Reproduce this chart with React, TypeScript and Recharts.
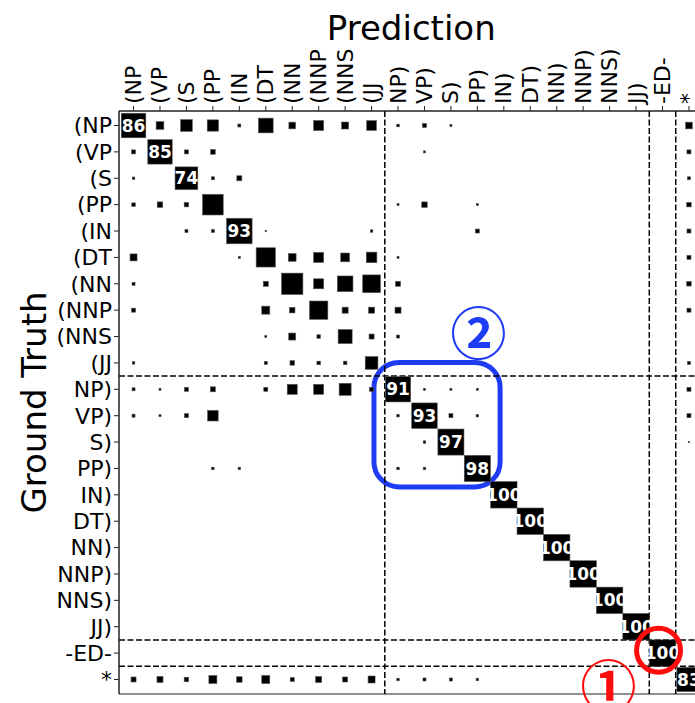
import React from 'react';
import {
  ScatterChart,
  Scatter,
  XAxis,
  YAxis,
  ZAxis,
  ReferenceLine,
  ReferenceArea,
  ReferenceDot,
} from 'recharts';

// tag set used on both axes (ground truth rows, prediction columns)
const tags = [
  '(NP', '(VP', '(S', '(PP', '(IN', '(DT', '(NN', '(NNP', '(NNS', '(JJ',
  'NP)', 'VP)', 'S)', 'PP)', 'IN)', 'DT)', 'NN)', 'NNP)', 'NNS)', 'JJ)',
  '-ED-', '*',
];

// confusion values in %, one array per ground-truth row
const rowOpenNP = [86, 8.5, 19.6, 18.3, 1.3, 31, 6.4, 14.3, 7, 13.5, 1, 2.3, 0.6, 0, 0, 0, 0, 0, 0, 0, 0, 6.4];
const rowOpenVP = [2.3, 85, 2.3, 3.2, 0, 0, 0, 0, 0, 0, 0, 0.6, 0, 0, 0, 0, 0, 0, 0, 0, 0, 2.3];
const rowOpenS = [0.9, 0, 74, 1.3, 3.6, 0, 0, 0, 0, 0, 0, 0, 0, 0, 0, 0, 0, 0, 0, 0, 0, 1.3];
const rowOpenPP = [1.8, 4.3, 2.9, 61, 0, 0, 0, 0, 0, 0, 0.6, 4.3, 0, 0.6, 0, 0, 0, 0, 0, 0, 0, 2.9];
const rowOpenIN = [0, 0, 1.3, 1.3, 93, 0.3, 0, 0, 0, 0.9, 0, 0, 0, 2.3, 0, 0, 0, 0, 0, 0, 0, 2.3];
const rowOpenDT = [7, 0, 0, 0, 0.6, 53, 8.5, 14.3, 11, 16, 0.6, 0, 0, 0, 0, 0, 0, 0, 0, 0, 0, 2.3];
const rowOpenNN = [1.3, 0, 0, 0, 0, 3.6, 65, 14.3, 35, 45, 3.6, 0, 0, 0, 0, 0, 0, 0, 0, 0, 0, 2.9];
const rowOpenNNP = [2.3, 0, 0, 0, 0, 9.2, 4.3, 48, 5.2, 5.2, 5.2, 0, 0, 0, 0, 0, 0, 0, 0, 0, 0, 2.3];
const rowOpenNNS = [0, 0, 0, 0, 0, 0.6, 7, 1.8, 28, 3.6, 1.3, 0, 0, 0, 0, 0, 0, 0, 0, 0, 0, 0];
const rowOpenJJ = [0.9, 0, 0, 0, 0, 1.3, 2.9, 1.8, 1.8, 23, 0, 0, 0, 0, 0, 0, 0, 0, 0, 0, 0, 1.3];
const rowCloseNP = [1.3, 0.6, 2.3, 3.6, 0, 2.3, 14.3, 14.3, 20.6, 2.3, 91, 0.6, 0.6, 0.6, 0, 0, 0, 0, 0, 0, 0, 2.3];
const rowCloseVP = [1.3, 0.6, 2.3, 16, 0, 0, 0, 0, 0, 0, 0.9, 93, 2.3, 0.9, 0, 0, 0, 0, 0, 0, 0, 2.3];
const rowCloseS = [0, 0, 0, 0, 0, 0, 0, 0, 0, 0, 0, 0.9, 97, 0, 0, 0, 0, 0, 0, 0, 0, 0.3];
const rowClosePP = [0, 0, 0, 0.9, 0.9, 0, 0, 0, 0, 0, 0.9, 0.9, 0, 98, 0, 0, 0, 0, 0, 0, 0, 0];
const rowCloseIN = [0, 0, 0, 0, 0, 0, 0, 0, 0, 0, 0, 0, 0, 0, 100, 0, 0, 0, 0, 0, 0, 0];
const rowCloseDT = [0, 0, 0, 0, 0, 0, 0, 0, 0, 0, 0, 0, 0, 0, 0, 100, 0, 0, 0, 0, 0, 0];
const rowCloseNN = [0, 0, 0, 0, 0, 0, 0, 0, 0, 0, 0, 0, 0, 0, 0, 0, 100, 0, 0, 0, 0, 0];
const rowCloseNNP = [0, 0, 0, 0, 0, 0, 0, 0, 0, 0, 0, 0, 0, 0, 0, 0, 0, 100, 0, 0, 0, 0];
const rowCloseNNS = [0, 0, 0, 0, 0, 0, 0, 0, 0, 0, 0, 0, 0, 0, 0, 0, 0, 0, 100, 0, 0, 0];
const rowCloseJJ = [0, 0, 0, 0, 0, 0, 0, 0, 0, 0, 0, 0, 0, 0, 0, 0, 0, 0, 0, 100, 0, 0];
const rowED = [0, 0, 0, 0, 0, 0, 0, 0, 0, 0, 0, 0, 0, 0, 0, 0, 0, 0, 0, 0, 100, 0];
const rowStar = [3.6, 5.2, 2.9, 9.2, 4.3, 9.2, 2.3, 5.2, 3.6, 7, 0.9, 1.3, 1.3, 0.9, 0, 0, 0, 0, 0, 0, 0, 83];

const rows = [
  rowOpenNP, rowOpenVP, rowOpenS, rowOpenPP, rowOpenIN, rowOpenDT, rowOpenNN, rowOpenNNP, rowOpenNNS, rowOpenJJ,
  rowCloseNP, rowCloseVP, rowCloseS, rowClosePP, rowCloseIN, rowCloseDT, rowCloseNN, rowCloseNNP, rowCloseNNS, rowCloseJJ,
  rowED, rowStar,
];

// group boundaries: open brackets | close brackets | -ED- | *
const splits = [9.5, 19.5, 20.5];

const LABEL_MIN = 70;
const FONT = 'DejaVu Sans, sans-serif';

const W = 710;
const H = 703;
const M = { top: 0, right: 6.5, bottom: 9, left: 0 };
const X_AXIS_H = 111;
const Y_AXIS_W = 119;
const LO = -0.55;
const HI = 21.55;
const PLOT_W = W - M.left - M.right - Y_AXIS_W;
const PITCH = PLOT_W / (HI - LO);
// area of a full cell as a circle-equivalent, so value 100 gives a square of one pitch
const MAX_AREA = Math.PI * (PITCH / 2) ** 2;

const points = rows.flatMap((row, r) =>
  row.map((v, c) => ({ col: c, row: r, v })).filter((d) => d.v > 0)
);
const ticks = tags.map((_, i) => i);

const Square = (p: any) => {
  const { cx, cy, width, payload } = p;
  if (!width) return <g />;
  return (
    <g>
      <rect
        x={cx - width / 2}
        y={cy - width / 2}
        width={width}
        height={width}
        fill="#000"
        stroke="#555"
        strokeWidth={0.6}
      />
      {payload.v >= LABEL_MIN && (
        <text
          x={cx}
          y={cy}
          dy="0.36em"
          textAnchor="middle"
          fill="#fff"
          fontWeight="bold"
          fontSize={17}
          fontFamily={FONT}
        >
          {payload.v}
        </text>
      )}
    </g>
  );
};

const TopTick = (p: any) => {
  const { x, y, payload } = p;
  return (
    <text
      transform={`translate(${x},${y}) rotate(-90)`}
      textAnchor="start"
      dominantBaseline="central"
      fontSize={22}
      fontFamily={FONT}
      fill="#000"
    >
      {tags[payload.value]}
    </text>
  );
};

const CircledDigit = (color: string, glyph: string) => (p: any) => (
  <text
    x={p.cx}
    y={p.cy}
    dy="0.36em"
    textAnchor="middle"
    fill={color}
    fontSize={56}
    fontWeight="bold"
    fontFamily="Noto Sans CJK JP"
  >
    {glyph}
  </text>
);

export default function App() {
  return (
    <div style={{ width: 695, height: 703, overflow: 'hidden', background: '#fff' }}>
      <style>{'body{margin:0;overflow:hidden;}'}</style>
      <ScatterChart width={W} height={H} margin={M}>
        <XAxis
          type="number"
          dataKey="col"
          orientation="top"
          domain={[LO, HI]}
          ticks={ticks}
          interval={0}
          height={X_AXIS_H}
          tickSize={5}
          tick={<TopTick />}
          axisLine={{ stroke: '#222' }}
          tickLine={{ stroke: '#222' }}
          allowDataOverflow
          label={{
            content: () => (
              <text x={Y_AXIS_W + PLOT_W / 2} y={40} textAnchor="middle" fontSize={34} fontFamily={FONT} fill="#000">
                Prediction
              </text>
            ),
          }}
        />
        <YAxis
          type="number"
          dataKey="row"
          domain={[LO, HI]}
          reversed
          ticks={ticks}
          interval={0}
          width={Y_AXIS_W}
          tickSize={5}
          tickFormatter={(i: number) => tags[i]}
          tick={{ fontSize: 22, fill: '#000', fontFamily: FONT }}
          axisLine={{ stroke: '#222' }}
          tickLine={{ stroke: '#222' }}
          allowDataOverflow
          label={{
            content: () => (
              <text
                transform={`translate(46,${M.top + X_AXIS_H + (H - M.bottom - X_AXIS_H) / 2}) rotate(-90)`}
                textAnchor="middle"
                fontSize={34}
                fontFamily={FONT}
                fill="#000"
              >
                Ground Truth
              </text>
            ),
          }}
        />
        <ZAxis type="number" dataKey="v" domain={[0, 100]} range={[0, MAX_AREA]} />
        <ReferenceArea x1={LO} x2={HI} y1={LO} y2={HI} fill="none" stroke="#222" strokeWidth={1} />
        {splits.map((s) => (
          <ReferenceLine key={`v${s}`} x={s} stroke="#000" strokeWidth={1.5} strokeDasharray="6 2.5" />
        ))}
        {splits.map((s) => (
          <ReferenceLine key={`h${s}`} y={s} stroke="#000" strokeWidth={1.5} strokeDasharray="6 2.5" />
        ))}
        <Scatter data={points} shape={<Square />} isAnimationActive={false} />
        <ReferenceArea
          x1={9.09}
          x2={13.86}
          y1={8.98}
          y2={13.7}
          fill="none"
          stroke="#1f3cf5"
          strokeWidth={5}
          radius={25}
          ifOverflow="visible"
        />
        <ReferenceDot x={19.85} y={19.89} r={22} fill="none" stroke="#ff0d0d" strokeWidth={5} ifOverflow="visible" />
        <ReferenceDot x={13.04} y={7.9} r={0} ifOverflow="visible" shape={CircledDigit('#1f3cf5', '②')} />
        <ReferenceDot x={17.96} y={21.29} r={0} ifOverflow="visible" shape={CircledDigit('#ff0d0d', '①')} />
      </ScatterChart>
    </div>
  );
}
